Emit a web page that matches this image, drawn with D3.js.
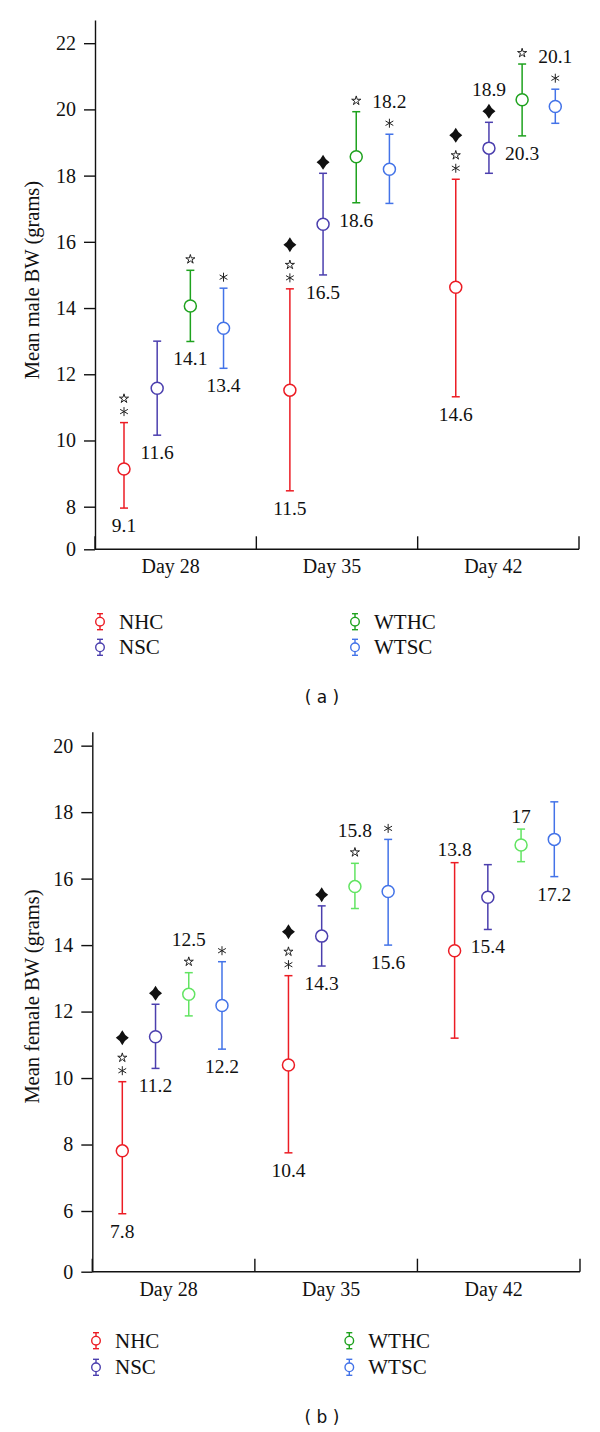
<!DOCTYPE html>
<html>
<head>
<meta charset="utf-8">
<script src="https://cdn.jsdelivr.net/npm/d3@7"></script>
<style>
  body { margin: 0; background: #fff; }
  svg { display: block; }
  text { font-family: "Liberation Serif", "Times New Roman", serif; fill: #111; }
  .cap { font-family: "DejaVu Sans", Verdana, sans-serif; }
</style>
</head>
<body>
<svg id="chart" width="600" height="1432"></svg>
<script>
// ---------------- DATA ----------------
const days = ["Day 28", "Day 35", "Day 42"];
const groups = ["NHC", "NSC", "WTHC", "WTSC"];

// Panel (a): mean male body weight (grams), rows = days, cols = groups
const maleMean  = [[9.14, 11.58, 14.06, 13.39], [11.52, 16.53, 18.57, 18.19], [14.63, 18.83, 20.29, 20.09]];
const maleUpper = [[10.54, 13.00, 15.14, 14.60], [14.58, 18.07, 19.93, 19.25], [17.89, 19.61, 21.37, 20.61]];
const maleLower = [[7.74, 10.16, 12.99, 12.18], [8.48, 15.00, 17.18, 17.16], [11.32, 18.07, 19.20, 19.58]];
const maleLabels = [["9.1", "11.6", "14.1", "13.4"], ["11.5", "16.5", "18.6", "18.2"], ["14.6", "18.9", "20.3", "20.1"]];
const maleLabelSide = [["below", "below", "below", "below"], ["below", "below", "below", "above"], ["below", "above", "below", "above"]];
// significance marks, listed from the bar upward
const maleMarks = [
  [["asterisk", "star"], [], ["star"], ["asterisk"]],
  [["asterisk", "star", "diamond"], ["diamond"], ["star"], ["asterisk"]],
  [["asterisk", "star", "diamond"], ["diamond"], ["star"], ["asterisk"]]
];
const maleTicks = [0, 8, 10, 12, 14, 16, 18, 20, 22];

// Panel (b): mean female body weight (grams)
const femaleMean  = [[7.81, 11.24, 12.52, 12.18], [10.39, 14.27, 15.76, 15.61], [13.83, 15.44, 17.01, 17.18]];
const femaleUpper = [[9.89, 12.22, 13.17, 13.50], [13.08, 15.18, 16.46, 17.18], [16.48, 16.42, 17.49, 18.31]];
const femaleLower = [[5.73, 10.29, 11.87, 10.87], [7.75, 13.37, 15.10, 14.00], [11.20, 14.47, 16.51, 16.06]];
const femaleLabels = [["7.8", "11.2", "12.5", "12.2"], ["10.4", "14.3", "15.8", "15.6"], ["13.8", "15.4", "17", "17.2"]];
const femaleLabelSide = [["below", "below", "above", "below"], ["below", "below", "above", "below"], ["above", "below", "above", "below"]];
const femaleMarks = [
  [["asterisk", "star", "diamond"], ["diamond"], ["star"], ["asterisk"]],
  [["asterisk", "star", "diamond"], ["diamond"], ["star"], ["asterisk"]],
  [[], [], [], []]
];
const femaleTicks = [0, 6, 8, 10, 12, 14, 16, 18, 20];

const legendColors = ["#ec1c24", "#4b3fae", "#1ea21e", "#4373e8"];
const maleColors = ["#ec1c24", "#4b3fae", "#1ea21e", "#4373e8"];
const femaleColors = ["#ec1c24", "#4b3fae", "#62e462", "#4373e8"];

// ---------------- DRAWING ----------------
const svg = d3.select("#chart");

const markPaths = {
  asterisk: (() => {
    const r = 4.5; let d = "";
    [90, 30, 150].forEach(a => {
      const t = a * Math.PI / 180, dx = r * Math.cos(t), dy = r * Math.sin(t);
      d += `M${-dx},${-dy}L${dx},${dy}`;
    });
    return d;
  })(),
  star: (() => {
    const pts = [];
    for (let i = 0; i < 10; i++) {
      const r = i % 2 === 0 ? 4.8 : 1.7;
      const t = -Math.PI / 2 + i * Math.PI / 5;
      pts.push([r * Math.cos(t), r * Math.sin(t)]);
    }
    return "M" + pts.map(p => p.join(",")).join("L") + "Z";
  })(),
  diamond: "M0,-7.5Q2.4,-2.4 6.5,0Q2.4,2.4 0,7.5Q-2.4,2.4 -6.5,0Q-2.4,-2.4 0,-7.5Z"
};
const markHeight = { asterisk: 12, star: 14, diamond: 26 };

function drawPanel(p) {
  const g = svg.append("g");
  const y = d3.scaleLinear().domain([0, p.brk, p.topVal]).range([p.y0, p.yBrk, p.yTop]);
  const slot = d3.scaleLinear().domain([0, 13]).range([p.x0, p.x13]);
  const band = d3.scaleBand().domain(days).range([p.axisX, p.axisEnd]);

  // y axis
  const yAxis = d3.axisLeft(y).tickValues(p.ticks).tickSize(11).tickPadding(8).tickSizeOuter(0);
  const ya = g.append("g").attr("transform", `translate(${p.axisX},0)`).call(yAxis);
  ya.selectAll("path, line").attr("stroke", "#111").attr("stroke-width", 1.4);
  ya.selectAll("text").attr("font-family", "Liberation Serif").attr("font-size", 20).attr("fill", "#111");

  // x axis
  g.append("line").attr("x1", p.axisX).attr("x2", p.axisEnd).attr("y1", p.y0).attr("y2", p.y0)
    .attr("stroke", "#111").attr("stroke-width", 1.4);
  const bounds = [band.range()[0]].concat(days.map(d => band(d) + band.bandwidth()));
  g.selectAll(".div").data(bounds).join("line")
    .attr("x1", d => d).attr("x2", d => d).attr("y1", p.y0).attr("y2", p.y0 - 13)
    .attr("stroke", "#111").attr("stroke-width", 1.4);
  g.selectAll(".day").data(days).join("text")
    .attr("x", d => band(d) + band.bandwidth() / 2 - 5).attr("y", p.y0 + 24)
    .attr("text-anchor", "middle").attr("font-size", 20).text(d => d);

  // y title
  g.append("text").attr("transform", `translate(${p.titleX},${p.titleY}) rotate(-90)`)
    .attr("text-anchor", "middle").attr("font-size", 20.5).text(p.title);

  // points
  const pts = [];
  days.forEach((d, i) => groups.forEach((gr, j) => {
    pts.push({ i, j, gr, mean: p.mean[i][j], up: p.upper[i][j], lo: p.lower[i][j],
      label: p.labels[i][j], side: p.side[i][j], marks: p.marks[i][j], color: p.colors[j],
      x: slot(i * 5 + j) });
  }));

  const pg = g.selectAll(".pt").data(pts).join("g");
  pg.append("line").attr("x1", d => d.x).attr("x2", d => d.x)
    .attr("y1", d => y(d.lo)).attr("y2", d => y(d.up)).attr("stroke", d => d.color).attr("stroke-width", 1.5);
  pg.append("line").attr("x1", d => d.x - 4).attr("x2", d => d.x + 4)
    .attr("y1", d => y(d.up)).attr("y2", d => y(d.up)).attr("stroke", d => d.color).attr("stroke-width", 1.5);
  pg.append("line").attr("x1", d => d.x - 4).attr("x2", d => d.x + 4)
    .attr("y1", d => y(d.lo)).attr("y2", d => y(d.lo)).attr("stroke", d => d.color).attr("stroke-width", 1.5);
  pg.append("circle").attr("cx", d => d.x).attr("cy", d => y(d.mean)).attr("r", 6)
    .attr("fill", "#fff").attr("stroke", d => d.color).attr("stroke-width", 1.5);

  // significance marks and value labels
  pts.forEach(d => {
    let c = y(d.up) - 11, prevH = null;
    d.marks.forEach((m, k) => {
      if (k > 0) c -= (prevH / 2 + markHeight[m] / 2);
      g.append("path").attr("d", markPaths[m]).attr("transform", `translate(${d.x},${c})`)
        .attr("fill", m === "diamond" ? "#111" : "none")
        .attr("stroke", "#222").attr("stroke-width", m === "diamond" ? 0 : 1.0)
        .attr("stroke-linejoin", "round");
      prevH = markHeight[m];
    });
    let ly;
    if (d.side === "below") ly = y(d.lo) + 24;
    else ly = d.marks.length ? c - 22 + 6.5 : y(d.up) - 13 + 6.5;
    g.append("text").attr("x", d.x).attr("y", ly).attr("text-anchor", "middle")
      .attr("font-size", 19.5).text(d.label);
  });

  // legend
  const leg = g.selectAll(".leg").data(groups).join("g")
    .attr("transform", (d, j) => `translate(${j < 2 ? p.legX1 : p.legX2},${p.legY + (j % 2) * p.legDY})`);
  leg.append("line").attr("y1", -8).attr("y2", 8).attr("stroke", (d, j) => legendColors[j]).attr("stroke-width", 1.4);
  leg.append("line").attr("x1", -3).attr("x2", 3).attr("y1", -8).attr("y2", -8).attr("stroke", (d, j) => legendColors[j]).attr("stroke-width", 1.4);
  leg.append("line").attr("x1", -3).attr("x2", 3).attr("y1", 8).attr("y2", 8).attr("stroke", (d, j) => legendColors[j]).attr("stroke-width", 1.4);
  leg.append("circle").attr("r", 4.3).attr("fill", "#fff").attr("stroke", (d, j) => legendColors[j]).attr("stroke-width", 1.4);
  leg.append("text").attr("x", 19).attr("y", 7).attr("font-size", 21).text(d => d);

  // caption
  g.append("text").attr("class", "cap").attr("x", 322).attr("y", p.capY).attr("text-anchor", "middle")
    .attr("font-size", 17).attr("font-family", "DejaVu Sans").text(p.caption);
}

drawPanel({
  mean: maleMean, upper: maleUpper, lower: maleLower, labels: maleLabels, side: maleLabelSide,
  marks: maleMarks, colors: maleColors, ticks: maleTicks,
  brk: 8, topVal: 22.7, y0: 549.3, yBrk: 506.7, yTop: 20,
  axisX: 95, axisEnd: 579, x0: 124, x13: 555.3,
  title: "Mean male BW (grams)", titleX: 39, titleY: 280,
  legX1: 100, legX2: 355, legY: 621.7, legDY: 25.6,
  caption: "( a )", capY: 703
});

drawPanel({
  mean: femaleMean, upper: femaleUpper, lower: femaleLower, labels: femaleLabels, side: femaleLabelSide,
  marks: femaleMarks, colors: femaleColors, ticks: femaleTicks,
  brk: 6, topVal: 20.42, y0: 1271.7, yBrk: 1211, yTop: 731.7,
  axisX: 92.3, axisEnd: 580, x0: 122.3, x13: 554.3,
  title: "Mean female BW (grams)", titleX: 39, titleY: 996.5,
  legX1: 96, legX2: 349.3, legY: 1340.7, legDY: 26.6,
  caption: "( b )", capY: 1423
});
</script>
</body>
</html>
